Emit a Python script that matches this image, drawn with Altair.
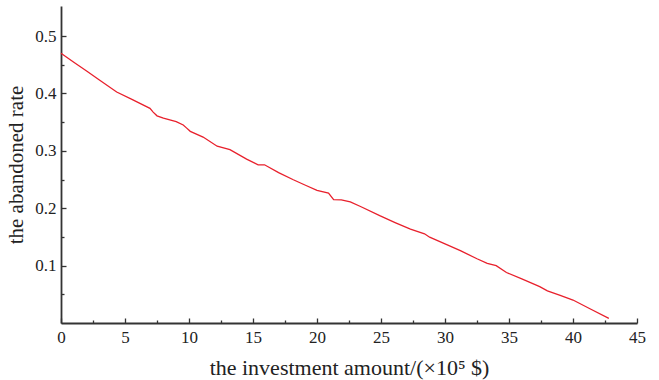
import altair as alt
import pandas as pd

# Investment amount (x10^5 $) and the corresponding abandoned rate
investment = [0, 1, 2, 3, 4.35, 5.5, 6.95, 7.2, 7.5, 8.0, 8.5, 9.0, 9.55, 9.8,
              10.1, 11.1, 12.2, 13.2, 14.5, 15.4, 15.9, 17.0, 18.15, 19.1, 20.0,
              20.9, 21.3, 21.9, 22.6, 23.4, 24.9, 26.1, 27.3, 28.4, 28.8, 30.0,
              31.2, 32.5, 33.3, 34.0, 34.8, 36.0, 37.4, 38.0, 39.0, 40.0, 41.4, 42.8]
abandoned_rate = [0.470, 0.4545, 0.439, 0.4235, 0.4026, 0.390, 0.374, 0.3675, 0.361,
                  0.357, 0.354, 0.351, 0.345, 0.340, 0.334, 0.324, 0.308, 0.302,
                  0.2855, 0.2757, 0.2757, 0.262, 0.2496, 0.240, 0.231, 0.2263, 0.215,
                  0.2147, 0.211, 0.203, 0.187, 0.175, 0.1635, 0.1555, 0.1495, 0.138,
                  0.126, 0.112, 0.104, 0.100, 0.088, 0.077, 0.0634, 0.056, 0.048,
                  0.040, 0.024, 0.008]

# Major and minor tick positions
x_tick_values = [0, 2.5, 5, 7.5, 10, 12.5, 15, 17.5, 20, 22.5, 25, 27.5, 30,
                 32.5, 35, 37.5, 40, 42.5, 45]
y_tick_values = [0.05, 0.1, 0.15, 0.2, 0.25, 0.3, 0.35, 0.4, 0.45, 0.5]

df = pd.DataFrame({"investment": investment, "rate": abandoned_rate})

FONT = "Liberation Serif"
AXIS_COLOR = "#333333"
PLOT_W, PLOT_H = 576, 317

x_major = "datum.value % 5 == 0"
y_major = "abs(datum.value * 10 - round(datum.value * 10)) < 0.001"

# Inward tick marks are drawn as short dashes at the start/end of grid lines.
x_axis = alt.Axis(
    values=x_tick_values,
    title="the investment amount/(\u00d710\u2075 $)",
    labelExpr=f"{x_major} ? format(datum.value, 'd') : ''",
    labelOverlap=False,
    labelFlush=False,
    labelPadding=6,
    ticks=False,
    grid=True,
    gridColor=AXIS_COLOR,
    gridWidth=1.3,
    gridDash={"condition": {"test": x_major, "value": [0, PLOT_H - 5, 5, 3000]},
              "value": [0, PLOT_H - 3, 3, 3000]},
    titlePadding=12,
    titleFontSize=22,
)

y_axis = alt.Axis(
    values=y_tick_values,
    title="the abandoned rate",
    labelExpr=f"{y_major} ? format(datum.value, '.1f') : ''",
    labelOverlap=False,
    labelFlush=False,
    labelPadding=5,
    ticks=False,
    grid=True,
    gridColor=AXIS_COLOR,
    gridWidth=1.3,
    gridDash={"condition": {"test": y_major, "value": [5, 3000]}, "value": [3, 3000]},
    titlePadding=8,
)

chart = (
    alt.Chart(df)
    .mark_line(color="#e8202c", strokeWidth=1.3)
    .encode(
        x=alt.X("investment:Q", scale=alt.Scale(domain=[0, 45], nice=False, zero=False), axis=x_axis),
        y=alt.Y("rate:Q", scale=alt.Scale(domain=[0, 0.5524], nice=False), axis=y_axis),
    )
    .properties(
        width=PLOT_W,
        height=PLOT_H,
        autosize=alt.AutoSizeParams(type="none"),
        padding={"left": 61, "top": 6, "right": 22, "bottom": 57},
    )
    .configure_view(stroke=None)
    .configure_axis(
        labelFont=FONT,
        labelFontSize=17,
        labelColor="#222222",
        titleFont=FONT,
        titleFontSize=21,
        titleFontWeight="normal",
        titleColor="#222222",
        domainColor=AXIS_COLOR,
        domainWidth=1.8,
    )
)

chart.save("out.html", embed_options={"renderer": "svg", "actions": False})
